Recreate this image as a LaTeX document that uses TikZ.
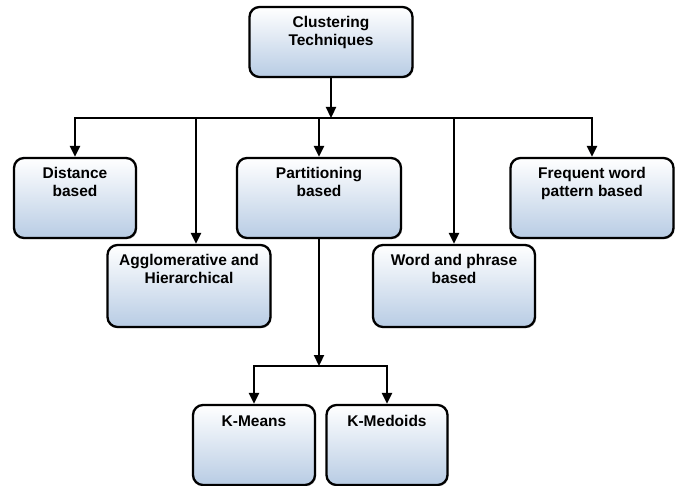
\documentclass[tikz,border=0pt]{standalone}
\usepackage{fontspec}
\setmainfont{Liberation Sans}
\usepackage{xcolor}
\usetikzlibrary{arrows.meta,shadows}

\definecolor{boxblue}{RGB}{184,204,228}

\tikzset{
  box/.style={draw, line width=2.3pt, rounded corners=10pt, top color=white, bottom color=boxblue,
    drop shadow={shadow xshift=1.2pt, shadow yshift=-1.2pt, opacity=0.35},
    font=\fontsize{15.5}{18}\selectfont\bfseries, align=center,
    inner xsep=4pt, inner ysep=9pt, text height=30pt},
  arr/.style={line width=2.3pt, -{Triangle[length=11pt,width=10pt]}}
}

\begin{document}
\begin{tikzpicture}[x=1pt,y=-1pt]
\useasboundingbox (0,0) rectangle (680,486);

\node[box, minimum width=163pt, text depth=22pt] (top) at (331,42) {Clustering\\Techniques};

\node[box, minimum width=122pt, text depth=32pt] (dist) at (75,198) {Distance\\based};
\node[box, minimum width=163pt, text depth=34pt] (agg) at (189,286) {Agglomerative and\\Hierarchical};
\node[box, minimum width=164pt, text depth=32pt] (part) at (319,198) {Partitioning\\based};
\node[box, minimum width=162pt, text depth=34pt] (word) at (454,286) {Word and phrase\\based};
\node[box, minimum width=163pt, text depth=32pt] (freq) at (592,198) {Frequent word\\pattern based};

\node[box, minimum width=122pt, text height=12pt, text depth=50pt] (kmeans) at (254,445) {K-Means};
\node[box, minimum width=121pt, text height=12pt, text depth=50pt] (kmedoids) at (387,445) {K-Medoids};

\coordinate (split) at (331,118);
\coordinate (ksplit) at (319,366);

\draw[arr] (top.south) -- (split);
\foreach \n in {dist,part,word,freq} {
\draw[arr] (split) -| (\n.north);
}
\draw[arr] (split) -| ([xshift=7pt]agg.north);

\draw[arr] (part.south) -- (ksplit);
\foreach \n in {kmeans,kmedoids} {
\draw[arr] (ksplit) -| (\n.north);
}
\end{tikzpicture}
\end{document}
